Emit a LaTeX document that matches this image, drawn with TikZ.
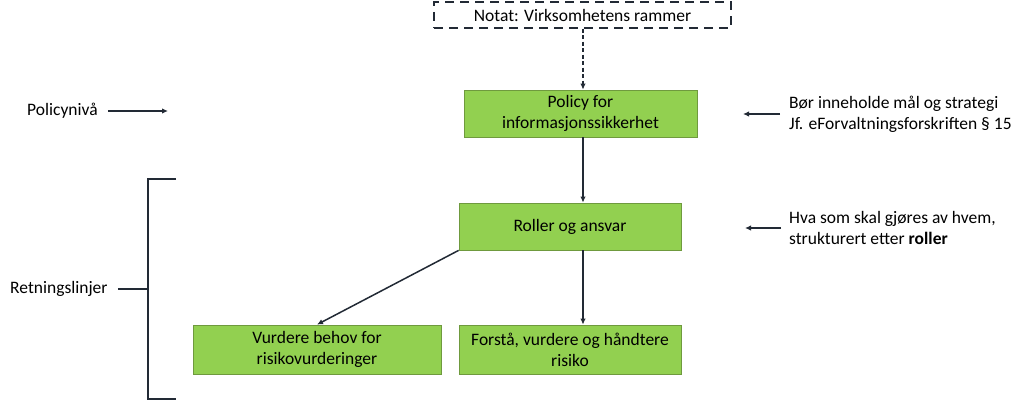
\documentclass[tikz,border=0pt]{standalone}
\usepackage{fontspec}
\setmainfont{Carlito}
\usetikzlibrary{arrows.meta}
\definecolor{navy}{HTML}{222A35}
\definecolor{boxgreen}{HTML}{92D050}
\definecolor{boxedge}{HTML}{6F9A3E}
\begin{document}
\begin{tikzpicture}[x=1pt,y=-1pt,
  every node/.style={font=\fontsize{17.5}{21}\selectfont, text=black},
  gbox/.style={draw=boxedge, fill=boxgreen, line width=0.8pt, align=center, inner sep=0pt},
  conn/.style={draw=navy, line width=1.5pt, -{Latex[length=6pt,width=5.5pt]}},
  brk/.style={draw=navy, line width=1.8pt}
]
\useasboundingbox (0,0) rectangle (1024,401);
% nodes
\node[draw=navy, line width=1.5pt, dash pattern=on 9pt off 6pt, minimum width=297pt, minimum height=26pt, inner sep=0pt] (notat) at (582.5,15) {Notat: Virksomhetens rammer};
\node[gbox, minimum width=233pt, minimum height=47pt] (policy) at (580.5,113.5) {Policy for\\informasjonssikkerhet};
\node[gbox, minimum width=222pt, minimum height=47pt] (roller) at (570,226.5) {Roller og ansvar};
\node[gbox, minimum width=248pt, minimum height=49pt] (vurdere) at (317,349.5) {Vurdere behov for\\risikovurderinger};
\node[gbox, minimum width=222pt, minimum height=49pt] (forsta) at (570,349.5) {Forstå, vurdere og håndtere\\risiko};
% left texts
\node[anchor=west, inner sep=0pt] (policyniva) at (27,111) {Policynivå};
\coordinate (pnend) at (168,111);
\node[anchor=west, inner sep=0pt] (retn) at (10,289) {Retningslinjer};
% right texts
\node[anchor=west, align=left, inner sep=0pt] (bor) at (789,114) {Bør inneholde mål og strategi\\Jf. eForvaltningsforskriften § 15};
\coordinate (borend) at (743,114);
\node[anchor=west, align=left, inner sep=0pt] (hva) at (789,228) {Hva som skal gjøres av hvem,\\strukturert etter \textbf{roller}};
\coordinate (hvaend) at (745,228);
% connectors
\draw[conn, dash pattern=on 4pt off 2.5pt] (notat.south -| 583,0) -- (policy.north -| 583,0);
\draw[conn] (policy.south -| 583,0) -- (roller.north -| 583,0);
\draw[conn] (roller.south west) -- (vurdere.north);
\draw[conn] (roller.south -| 583,0) -- (forsta.north -| 583,0);
\draw[conn] ([xshift=10pt]policyniva.east) -- (pnend);
\draw[conn] ([xshift=-9pt]bor.west |- borend) -- (borend);
\draw[conn] ([xshift=-8pt]hva.west |- hvaend) -- (hvaend);
% bracket
\coordinate (bt) at (148,179);
\coordinate (bb) at (148,399);
\draw[brk] (176,179) -- (bt) -- (bb) -- (176,399);
\draw[brk] ([xshift=10pt]retn.east) -- (bt |- retn.east);
\end{tikzpicture}
\end{document}
